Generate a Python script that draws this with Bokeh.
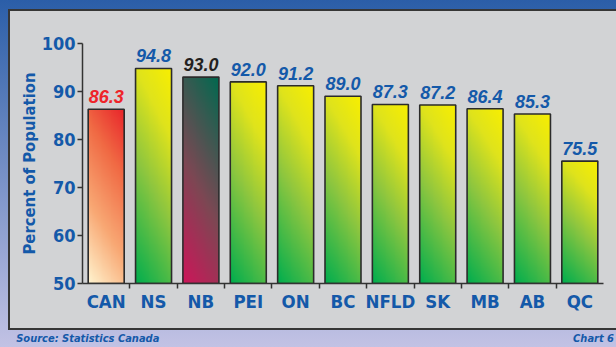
import numpy as np
from bokeh.plotting import figure
from bokeh.models import ColumnDataSource, FixedTicker, LabelSet, LinearAxis
from bokeh.core.properties import value
from bokeh.embed import file_html
from bokeh.resources import INLINE

# Provinces and share of population (percent)
regions = ["CAN", "NS", "NB", "PEI", "ON", "BC", "NFLD", "SK", "MB", "AB", "QC"]
percent = [86.3, 94.8, 93.0, 92.0, 91.2, 89.0, 87.3, 87.2, 86.4, 85.3, 75.5]
value_labels = ["86.3", "94.8", "93.0", "92.0", "91.2", "89.0", "87.3", "87.2", "86.4", "85.3", "75.5"]
y_ticks = [50, 60, 70, 80, 90, 100]
footer = {0.648: "Source:  Statistics Canada", 11.29: "Chart 6"}

BLUE = "#1459a9"
COND = "DejaVu Sans Condensed"
BASE = 50
BAR_W = 0.76

# colour ramps, bottom-left (t=0) to top-right (t=1)
GREEN_YELLOW = [(0.0, "#00ad4e"), (0.45, "#8ec63f"), (0.75, "#dfe31c"), (1.0, "#f9ef00")]
CREAM_RED = [(0.0, "#fff4cf"), (0.35, "#f8a874"), (0.7, "#f06a44"), (1.0, "#e8232a")]
CRIMSON_TEAL = [(0.0, "#cd1659"), (0.45, "#7d4753"), (1.0, "#00694f")]
ramps = [CREAM_RED, GREEN_YELLOW, CRIMSON_TEAL] + [GREEN_YELLOW] * 8
label_colors = ["#ee2429", BLUE, "#231f20"] + [BLUE] * 8


def hex_rgb(h):
    h = h.lstrip("#")
    return np.array([int(h[i:i + 2], 16) for i in (0, 2, 4)], dtype=float)


def gradient_image(stops, nx=40, ny=240):
    u = np.linspace(0, 1, nx)[None, :]
    v = np.linspace(0, 1, ny)[:, None]
    t = np.clip(0.75 * v + 0.25 * u, 0, 1)
    pos = np.array([s[0] for s in stops])
    cols = np.array([hex_rgb(s[1]) for s in stops])
    rgb = np.stack([np.interp(t, pos, cols[:, k]) for k in range(3)], axis=-1)
    img = np.empty((ny, nx, 4), dtype=np.uint8)
    img[..., :3] = np.round(rgb).astype(np.uint8)
    img[..., 3] = 255
    return img.view(dtype=np.uint32).reshape((ny, nx))


centers = list(range(1, len(regions) + 1))

p = figure(
    width=616, height=347,
    x_range=(0.5, len(regions) + 0.5), y_range=(BASE, 100),
    output_backend="svg", toolbar_location=None,
    min_border_left=82, min_border_right=13, min_border_top=43, min_border_bottom=64,
)
p.border_fill_alpha = 0
p.background_fill_alpha = 0
p.outline_line_color = None
p.grid.visible = False
p.styles = {
    "background": (
        "linear-gradient(#d2d3d5,#d2d3d5) 10px 11px / 606px 317px no-repeat, "
        "linear-gradient(#363636,#363636) 8px 9px / 608px 321px no-repeat, "
        "linear-gradient(180deg,#2b5ea8 0%,#c2c2e4 100%)"
    )
}

# gradient-filled bars with dark outlines
p.image_rgba(
    image=[gradient_image(r) for r in ramps],
    x=[c - BAR_W / 2 for c in centers],
    y=[BASE] * len(regions),
    dw=[BAR_W] * len(regions),
    dh=[v - BASE for v in percent],
)
src = ColumnDataSource(dict(x=centers, top=percent, label=value_labels, color=label_colors))
p.vbar(x="x", top="top", bottom=BASE, width=BAR_W, source=src,
       fill_alpha=0, line_color="#2b2b2b", line_width=1.6)

p.add_layout(LabelSet(
    x="x", y="top", text="label", source=src, text_color="color",
    text_align="center", text_baseline="alphabetic", y_offset=6,
    text_font=value("Liberation Sans"),
    text_font_size="18px", text_font_style="bold italic",
))

# category axis: names under bars, ticks between them
xa = p.xaxis[0]
xa.ticker = FixedTicker(ticks=centers, minor_ticks=[c + 0.5 for c in centers[:-1]])
xa.major_label_overrides = {c: r for c, r in zip(centers, regions)}
xa.major_tick_line_color = None
xa.major_tick_out = 0
xa.minor_tick_in = 0
xa.minor_tick_out = 5
xa.minor_tick_line_color = "#333333"
xa.minor_tick_line_width = 1.5
xa.axis_line_color = "#333333"
xa.axis_line_width = 1.5
xa.major_label_standoff = 2
xa.major_label_text_font = COND
xa.major_label_text_font_style = "bold"
xa.major_label_text_font_size = "18.5px"
xa.major_label_text_color = BLUE

ya = p.yaxis[0]
ya.ticker = FixedTicker(ticks=y_ticks)
ya.major_tick_in = 0
ya.major_tick_out = 5
ya.major_tick_line_color = "#333333"
ya.major_tick_line_width = 1.5
ya.minor_tick_line_color = None
ya.axis_line_color = "#333333"
ya.axis_line_width = 1.5
ya.major_label_standoff = 2
ya.major_label_text_font = COND
ya.major_label_text_font_style = "bold"
ya.major_label_text_font_size = "18px"
ya.major_label_text_color = BLUE
ya.axis_label = "Percent of Population"
ya.axis_label_text_font = COND
ya.axis_label_text_font_style = "bold"
ya.axis_label_text_font_size = "16.5px"
ya.axis_label_text_color = BLUE
ya.axis_label_standoff = 0

# footer line: source note and chart number
fa = LinearAxis(ticker=FixedTicker(ticks=list(footer.keys())), major_label_overrides=footer)
fa.axis_line_color = None
fa.major_tick_line_color = None
fa.minor_tick_line_color = None
fa.major_tick_out = 0
fa.major_label_standoff = 17
fa.major_label_text_font = COND
fa.major_label_text_font_style = "bold italic"
fa.major_label_text_font_size = "11px"
fa.major_label_text_color = BLUE
p.add_layout(fa, "below")

open("out.html", "w").write(file_html(p, INLINE))
